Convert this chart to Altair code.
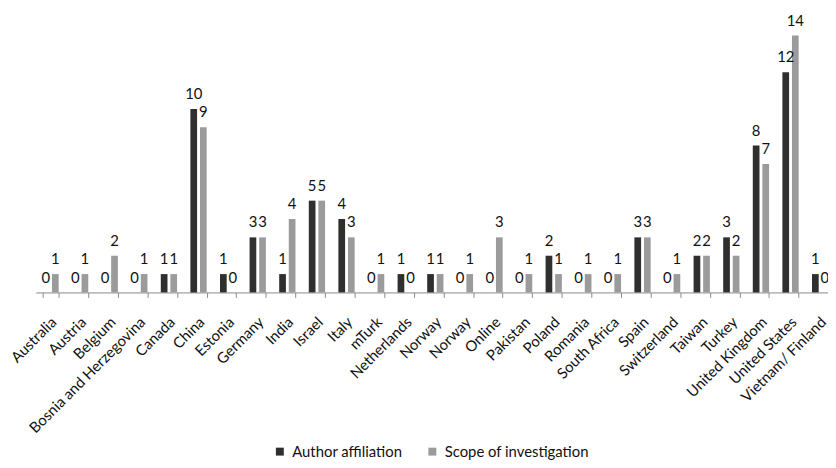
import altair as alt
import pandas as pd

countries = ["Australia", "Austria", "Belgium", "Bosnia and Herzegovina", "Canada", "China",
             "Estonia", "Germany", "India", "Israel", "Italy", "mTurk", "Netherlands", "Norway",
             "Norway", "Online", "Pakistan", "Poland", "Romania", "South Africa", "Spain",
             "Switzerland", "Taiwan", "Turkey", "United Kingdom", "United States", "Vietnam/ Finland"]
author = [0, 0, 0, 0, 1, 10, 1, 3, 1, 5, 4, 0, 1, 1, 0, 0, 0, 2, 0, 0, 3, 0, 2, 3, 8, 12, 1]
scope = [1, 1, 2, 1, 1, 9, 0, 3, 4, 5, 3, 1, 0, 1, 1, 3, 1, 1, 1, 1, 3, 1, 2, 2, 7, 14, 0]
series = ["Author affiliation", "Scope of investigation"]
colors = ["#2f2f2f", "#9b9b9b"]

rows = []
for i, c in enumerate(countries):
    rows.append({"id": i, "country": c, "series": series[0], "value": author[i]})
    rows.append({"id": i, "country": c, "series": series[1], "value": scope[i]})
df = pd.DataFrame(rows)

label_array = "[" + ",".join("'" + c + "'" for c in countries) + "]"

FONT = "Lato"

x = alt.X("id:O",
          scale=alt.Scale(range=[0, 807], paddingInner=0.45, paddingOuter=0.225),
          axis=alt.Axis(title=None, labelExpr=label_array + "[datum.value]",
                        labelAngle=-45, labelAlign="right", labelBaseline="middle",
                        labelFont=FONT, labelFontSize=15, labelColor="#111111",
                        labelPadding=22, labelOffset=3, labelOverlap=False,
                        tickBand="extent", tickSize=5, tickColor="#8a8a8a",
                        domainColor="#8a8a8a", grid=False))
xo = alt.XOffset("series:N", sort=series,
                 scale=alt.Scale(paddingInner=0.3, paddingOuter=0))
y = alt.Y("value:Q", scale=alt.Scale(domain=[0, 15], nice=False), axis=None)

bars = alt.Chart(df).mark_bar().encode(
    x=x, xOffset=xo, y=y,
    color=alt.Color("series:N", sort=series,
                    scale=alt.Scale(domain=series, range=colors),
                    legend=alt.Legend(title=None, orient="none", direction="horizontal",
                                      legendX=239, legendY=431,
                                      symbolType="square", symbolSize=64,
                                      symbolStrokeWidth=0,
                                      labelFont=FONT, labelFontSize=15, labelColor="#111111",
                                      columnPadding=22, labelOffset=5, padding=0)),
)

labels = alt.Chart(df).mark_text(font=FONT, fontSize=15, color="#111111",
                                 baseline="alphabetic", dy=-10).encode(
    x=x, xOffset=xo, y=y, text="value:Q")

chart = alt.layer(bars, labels).properties(
    width=800, height=278,
    autosize=alt.AutoSizeParams(type="none"),
    padding={"left": 28, "top": 7, "right": 0, "bottom": 167},
).configure_view(stroke=None)

chart.save("out.html", embed_options={"renderer": "svg", "actions": False})
